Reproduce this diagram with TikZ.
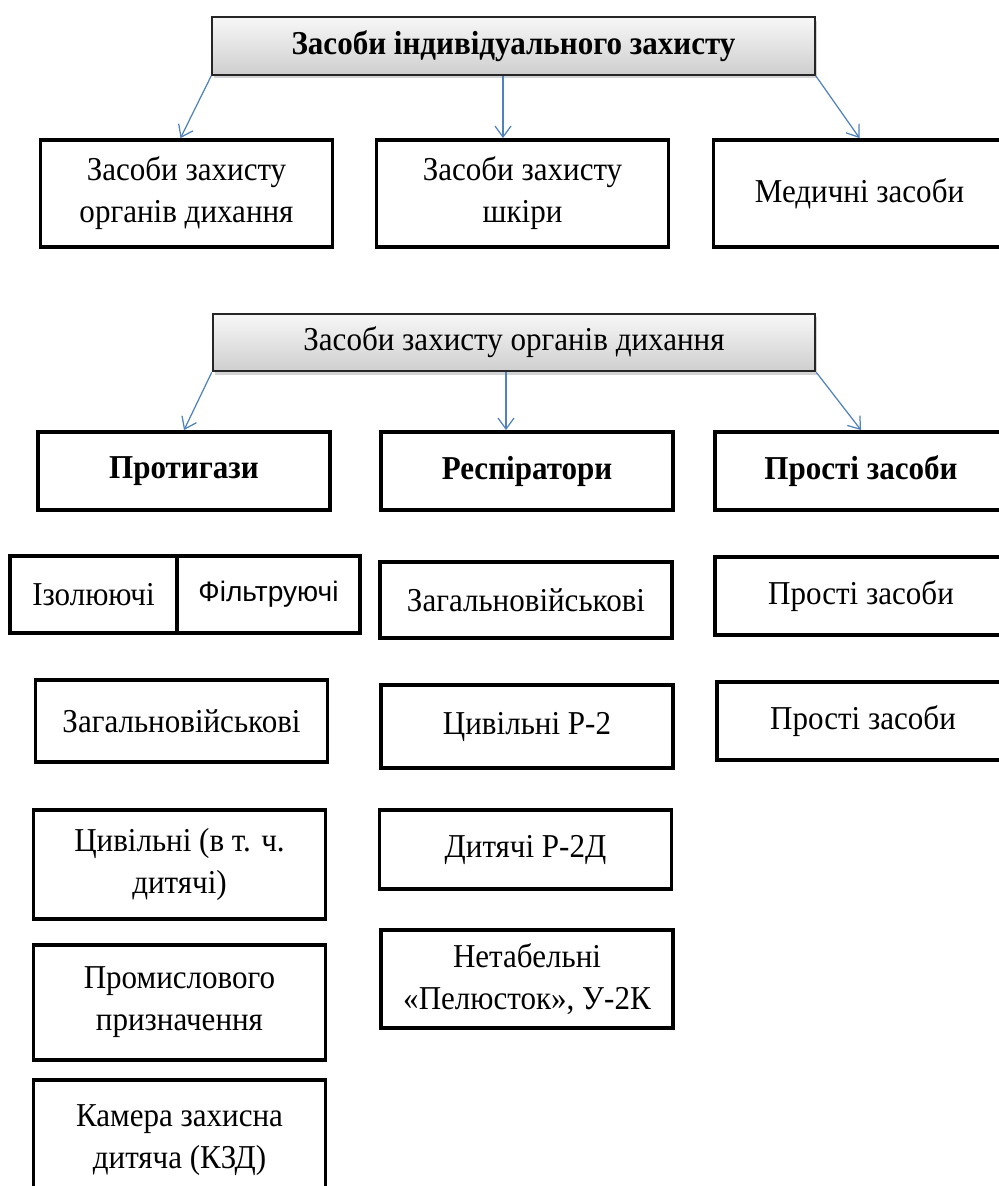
\documentclass[tikz,border=0pt]{standalone}
\usepackage{fontspec}
\setmainfont{Liberation Serif}[FakeStretch=0.93]
\newfontfamily\arialfont{Liberation Sans}
\usetikzlibrary{arrows.meta,shadows}

\definecolor{linkblue}{HTML}{4F81BD}

\tikzset{
  box/.style={draw=black, line width=2.2pt, fill=white, align=center,
    minimum width=5.84cm, inner sep=2pt, font=\fontsize{19}{24}\selectfont},
  headbox/.style={draw=black!85, line width=1.2pt, top color=gray!6,
    bottom color=gray!38, minimum width=12.05cm, minimum height=1.15cm,
    drop shadow={shadow xshift=0.04cm, shadow yshift=-0.07cm, opacity=0.35},
    font=\fontsize{19}{24}\selectfont},
  link/.style={draw=linkblue, line width=0.7pt,
    -{Straight Barb[length=2.2mm,width=3.2mm]}},
}

\begin{document}
\begin{tikzpicture}[x=0.02cm, y=-0.02cm]
  % \draw[help lines] (0,0) grid (998,1186);
  \useasboundingbox (0,0) rectangle (998,1186);

  % first scheme
  \node[headbox, font=\fontsize{19}{24}\selectfont\bfseries] (zih) at (513.5,46)
    {Засоби індивідуального захисту};

  \node[box, minimum height=2.14cm] (dykh) at (186.5,193.5) {Засоби захисту\\органів дихання};
  \node[box, minimum height=2.14cm] (shkira) at (522.5,193.5) {Засоби захисту\\шкіри};
  \node[box, minimum height=2.14cm] (med) at (859.5,193.5) {Медичні засоби};

  \coordinate (m1) at ([xshift=-0.21cm]zih.south);
  \draw[link] (zih.south west) -- ([xshift=-0.12cm]dykh.north);
  \draw[link] (m1) -- (m1 |- shkira.north);
  \draw[link] (zih.south east) -- (med.north);

  % second scheme
  \node[headbox] (zzod) at (514,342.5) {Засоби захисту органів дихання};

  \node[box, minimum height=1.56cm, font=\fontsize{19}{24}\selectfont\bfseries] (protyhazy) at (184,471) {Протигази};
  \node[box, minimum height=1.56cm, font=\fontsize{19}{24}\selectfont\bfseries] (respir) at (527,471) {Респіратори};
  \node[box, minimum height=1.56cm, font=\fontsize{19}{24}\selectfont\bfseries] (prosti) at (861,471) {Прості засоби};

  \coordinate (m2) at ([xshift=-0.16cm]zzod.south);
  \draw[link] (zzod.south west) -- (protyhazy.north);
  \draw[link] (m2) -- (m2 |- respir.north);
  \draw[link] (zzod.south east) -- (prosti.north);

  % protyhazy
  \node[box, minimum width=3.34cm, minimum height=1.54cm] (izol) at (93.5,594.5) {Ізолюючі};
  \node[box, minimum width=3.66cm, minimum height=1.54cm, font=\fontsize{16}{19}\selectfont\arialfont] (filtr) at (268.5,594.5) {Фільтруючі};
  \node[box, minimum height=1.64cm] (zagp) at (181.5,721) {Загальновійськові};
  \node[box, minimum height=2.18cm] (tsyvp) at (179.5,864.5) {Цивільні (в т. ч.\\дитячі)};
  \node[box, minimum height=2.3cm] (prom) at (179.5,1002.5) {Промислового\\призначення};
  \node[box, minimum height=2.4cm] (kzd) at (179.5,1140) {Камера захисна\\дитяча (КЗД)};

  % respiratory
  \node[box, minimum height=1.52cm] (zagr) at (526,600) {Загальновійськові};
  \node[box, minimum height=1.66cm] (tsyvr) at (527,726.5) {Цивільні Р-2};
  \node[box, minimum height=1.58cm] (dyt) at (525.5,849.5) {Дитячі Р-2Д};
  \node[box, minimum height=1.96cm] (netab) at (527,979) {Нетабельні\\«Пелюсток», У-2К};

  % prosti
  \node[box, minimum height=1.56cm] (prosti2) at (861,596) {Прості засоби};
  \node[box, minimum height=1.56cm] (prosti3) at (863,721) {Прості засоби};

\end{tikzpicture}
\end{document}
